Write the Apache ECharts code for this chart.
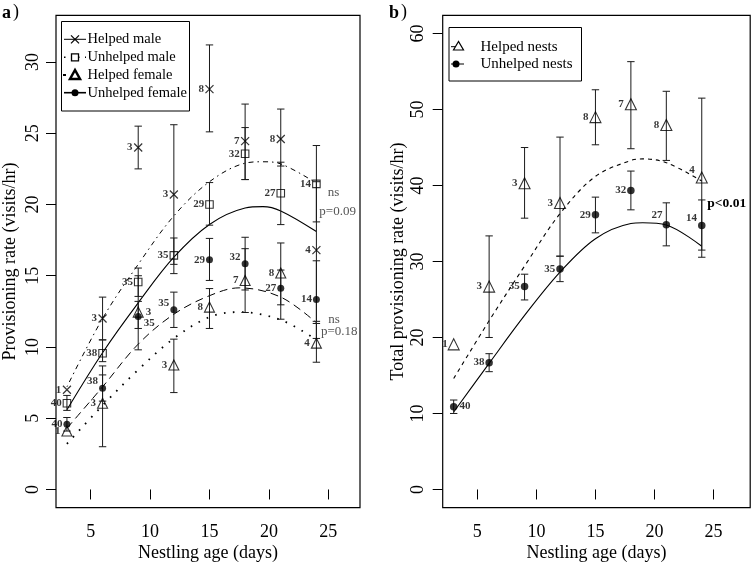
<!DOCTYPE html>
<html><head><meta charset="utf-8">
<script src="https://cdn.jsdelivr.net/npm/echarts@6/dist/echarts.min.js"></script>
<style>html,body{margin:0;padding:0;background:#fff}#c{width:751px;height:564px}</style>
</head><body><div id="c"></div>
<script>
// ---------- data ----------
const ages = [3, 6, 9, 12, 15, 18, 21, 24];
const xTicks = [5, 10, 15, 20, 25];
const yTicksA = [0, 5, 10, 15, 20, 25, 30];
const yTicksB = [0, 10, 20, 30, 40, 50, 60];
const xTitle = 'Nestling age (days)';
const yTitleA = 'Provisioning rate (visits/hr)';
const yTitleB = 'Total provisioning rate (visits/hr)';

// Panel a) provisioning rate by sex
const helpedMale   = [7.0, 12.0, 24.0, 20.7, 28.1, 24.45, 24.6, 16.8];
const helpedMaleLo = [null, 10.5, 22.5, 15.8, 25.1, 21.75, 22.7, 11.8];
const helpedMaleHi = [null, 13.5, 25.5, 25.6, 31.2, 27.05, 26.7, 21.6];
const helpedMaleN  = [1, 3, 3, 3, 8, 7, 8, 4];

const unhelpedMale   = [6.05, 9.56, 14.56, 16.43, 20.0, 23.56, 20.79, 21.45];
const unhelpedMaleLo = [5.55, 8.97, 13.55, 15.15, 18.55, 21.75, 18.59, 18.78];
const unhelpedMaleHi = [6.6, 10.5, 15.54, 17.65, 21.54, 25.4, 22.97, 24.14];
const unhelpedMaleN  = [40, 38, 35, 35, 29, 32, 27, 14];

const helpedFemale   = [4.1, 6.05, 12.45, 8.74, 12.8, 14.67, 15.19, 10.27];
const helpedFemaleLo = [null, 3.0, 9.8, 6.8, 11.3, 12.42, 11.95, 8.93];
const helpedFemaleHi = [null, 8.67, 15.0, 10.55, 14.1, 16.9, 17.3, 11.65];
const helpedFemaleN  = [1, 3, 3, 3, 8, 7, 8, 4];

const unhelpedFemale   = [4.57, 7.1, 12.14, 12.61, 16.12, 15.84, 14.13, 13.33];
const unhelpedFemaleLo = [4.1, 6.2, 11.3, 11.37, 14.67, 14.0, 12.96, 10.6];
const unhelpedFemaleHi = [5.05, 8.04, 13.2, 13.85, 17.62, 17.7, 15.4, 16.05];
const unhelpedFemaleN  = [40, 38, 35, 35, 29, 32, 27, 14];

// fitted curves, panel a
const fitXMale = [3, 6, 9, 12, 15, 18, 19.5, 21, 24];
const fitSolidA   = [5.6, 9.6, 13.1, 16.3, 18.6, 19.75, 19.85, 19.55, 18.1];
const fitDashDotA = [7.2, 12.0, 15.8, 19.2, 21.6, 22.9, 23.0, 22.85, 21.5];
const fitXFemale = [3, 6, 9, 12, 15, 17.5, 21, 24];
const fitDashedA = [4.3, 7.2, 10.2, 12.3, 13.6, 14.15, 13.5, 11.7];
const fitDottedA = [3.2, 5.9, 8.4, 10.6, 12.1, 12.45, 11.9, 10.5];

// Panel b) total provisioning rate
const helpedNests   = [19.1, 26.7, 40.3, 37.7, 49.0, 50.7, 47.96, 41.05];
const helpedNestsLo = [null, 20.0, 35.7, 30.7, 45.36, 44.84, 43.3, 30.56];
const helpedNestsHi = [null, 33.37, 45.0, 46.37, 52.6, 56.3, 52.4, 51.5];
const helpedNestsN  = [1, 3, 3, 3, 8, 7, 8, 4];

const unhelpedNests   = [10.9, 16.69, 26.7, 29.02, 36.14, 39.35, 34.82, 34.73];
const unhelpedNestsLo = [10.0, 15.5, 24.94, 27.35, 33.77, 36.8, 32.06, 31.5];
const unhelpedNestsHi = [11.77, 17.87, 28.33, 30.7, 38.47, 41.9, 37.72, 38.1];
const unhelpedNestsN  = [40, 38, 35, 35, 29, 32, 27, 14];

const fitXB = [3, 6, 9, 12, 15, 18, 19, 21, 24];
const fitDashedB = [14.6, 22.2, 29.4, 36.3, 41.2, 43.3, 43.5, 43.0, 40.6];
const fitSolidB  = [10.2, 16.6, 22.9, 28.6, 33.0, 35.0, 35.1, 34.8, 32.0];

// ---------- label placement (styling) ----------
const LBL = {
  L:  {position: 'left', distance: 1},
  L0: {position: 'left', distance: 0},
  R:  {position: 'right', distance: 2},
  LU: {position: 'left', distance: 1, offset: [0, -7]},
  LU2:{position: 'left', distance: 0, offset: [0, -10]},
  RD: {position: 'right', distance: 2, offset: [0, 7]}
};
const posHM = ['L','L','L','L','L','L','L','L'];
const posUM = ['L','L','L','L','L','L','L','L'];
const posHF = ['L','L','R','L','L','L','L','L'];
const posUF = ['L','LU','RD','LU','L','LU','L','L'];
const posHN = ['L0','L','L','L','L','L','L','LU'];
const posUN = ['R','L','L','L','L','L','LU2','LU'];

const FONT = 'Liberation Serif';
const crossPath = 'path://M0,0L10,10M0,10L10,0';

function pts(idx, vals, ns, pos, symbol, size, filled, bw) {
  return {
    type: 'scatter', xAxisIndex: idx, yAxisIndex: idx, z: 5,
    symbol: symbol, symbolSize: size,
    itemStyle: {color: filled ? '#000' : 'rgba(0,0,0,0)', borderColor: '#000', borderWidth: bw},
    label: {show: true, fontFamily: FONT, fontWeight: 'bold', fontSize: 11, color: '#000',
      formatter: p => String(ns[p.dataIndex])},
    data: ages.map((x, i) => ({value: [x, vals[i]], label: LBL[pos[i]]}))
  };
}
function errs(idx, lo, hi) {
  const data = [];
  ages.forEach((x, i) => { if (lo[i] != null) data.push([x, lo[i], hi[i]]); });
  return {
    type: 'custom', xAxisIndex: idx, yAxisIndex: idx, z: 3, silent: true,
    encode: {x: 0, y: [1, 2]}, data: data,
    renderItem: function (params, api) {
      const x = api.value(0);
      const a = api.coord([x, api.value(1)]);
      const b = api.coord([x, api.value(2)]);
      const w = 3.7;
      const st = {stroke: '#1a1a1a', lineWidth: 1};
      return {type: 'group', children: [
        {type: 'line', shape: {x1: a[0], y1: a[1], x2: b[0], y2: b[1]}, style: st},
        {type: 'line', shape: {x1: a[0] - w, y1: a[1], x2: a[0] + w, y2: a[1]}, style: st},
        {type: 'line', shape: {x1: b[0] - w, y1: b[1], x2: b[0] + w, y2: b[1]}, style: st}
      ]};
    }
  };
}
function fit(idx, xs, ys, type, width) {
  return {
    type: 'line', xAxisIndex: idx, yAxisIndex: idx, z: 2, silent: true,
    showSymbol: false, symbol: 'none', smooth: 0.35,
    lineStyle: {color: '#000', width: width || 1, type: type},
    data: xs.map((x, i) => [x, ys[i]])
  };
}

function xAx(idx, min, max) {
  return {
    type: 'value', gridIndex: idx, min: min, max: max,
    axisLine: {show: false}, splitLine: {show: false}, axisLabel: {show: false},
    axisTick: {show: true, length: 10, lineStyle: {color: '#000', width: 1}, customValues: xTicks}
  };
}
function yAx(idx, min, max, ticks) {
  return {
    type: 'value', gridIndex: idx, min: min, max: max,
    axisLine: {show: false}, splitLine: {show: false}, axisLabel: {show: false},
    axisTick: {show: true, length: 10, lineStyle: {color: '#000', width: 1}, customValues: ticks}
  };
}

// ---------- legend / text graphics ----------
const G = [];
function txt(x, y, s, size, weight, color, align, rot) {
  G.push({type: 'text', x: x, y: y, rotation: rot || 0, style: {text: s, fontFamily: FONT, fontSize: size,
    fontWeight: weight || 'normal', fill: color || '#000', textAlign: align || 'left', textVerticalAlign: 'middle'}});
}
function seg(x1, y1, x2, y2, dash, w) {
  G.push({type: 'line', shape: {x1, y1, x2, y2}, style: {stroke: '#000', lineWidth: w || 1, lineDash: dash || null}});
}
// legend a
G.push({type: 'rect', shape: {x: 61.5, y: 21.5, width: 128, height: 89.5}, style: {fill: '#fff', stroke: '#000', lineWidth: 1}});
const la = [39.3, 57.3, 75, 92.7];
seg(64, la[0], 86, la[0]);
seg(71, la[0] - 4, 79, la[0] + 4, null, 1.2); seg(71, la[0] + 4, 79, la[0] - 4, null, 1.2);
seg(64, la[1], 86, la[1], [1.5, 5.5], 1.6);
G.push({type: 'rect', shape: {x: 71.5, y: la[1] - 3.5, width: 7, height: 7}, style: {fill: '#fff', stroke: '#000', lineWidth: 1.3}});
seg(63, la[2], 66, la[2], null, 2);
G.push({type: 'polygon', shape: {points: [[75, la[2] - 5], [70, la[2] + 4], [80, la[2] + 4]]}, style: {fill: '#fff', stroke: '#000', lineWidth: 2.5}});
seg(64, la[3], 86, la[3], null, 1.6);
G.push({type: 'circle', shape: {cx: 75, cy: la[3], r: 3.5}, style: {fill: '#000'}});
txt(87.5, la[0], 'Helped male', 14.5); txt(87.5, la[1], 'Unhelped male', 14.5);
txt(87.5, la[2], 'Helped female', 14.5); txt(87.5, la[3], 'Unhelped female', 14.5);
// legend b
G.push({type: 'rect', shape: {x: 449, y: 27.5, width: 132.5, height: 53.5}, style: {fill: '#fff', stroke: '#000', lineWidth: 1}});
seg(451, 46.7, 455, 46.7);
G.push({type: 'polygon', shape: {points: [[458.5, 41.5], [453.5, 50], [463.5, 50]]}, style: {fill: 'none', stroke: '#000', lineWidth: 1.2}});
seg(451, 64, 464, 64);
G.push({type: 'circle', shape: {cx: 456, cy: 64, r: 3.5}, style: {fill: '#000'}});
txt(480.5, 46.7, 'Helped nests', 15); txt(480.5, 64, 'Unhelped nests', 15);
// panel letters and annotations
txt(2, 13, 'a', 18, 'bold'); txt(13, 12, ')', 18);
txt(389, 13, 'b', 18, 'bold'); txt(401, 12, ')', 18);
txt(327.7, 192.7, 'ns', 13, 'normal', '#555'); txt(319.3, 211.7, 'p=0.09', 13, 'normal', '#555');
txt(328.3, 320, 'ns', 13, 'normal', '#555'); txt(321, 331.5, 'p=0.18', 13, 'normal', '#555');
txt(707.3, 204, 'p<0.01', 13.5, 'bold');

const grids = [
  {left: 56, top: 15.3, width: 304, height: 492.4, show: true, borderColor: '#000', borderWidth: 1.2, backgroundColor: 'transparent'},
  {left: 442.7, top: 15.3, width: 307.5, height: 492.4, show: true, borderColor: '#000', borderWidth: 1.2, backgroundColor: 'transparent'}
];
const option = {
  animation: false,
  backgroundColor: '#fff',
  grid: grids,
  xAxis: [xAx(0, 2.08, 27.67), xAx(1, 2.07, 28.1)],
  yAxis: [yAx(0, -1.28, 33.28, yTicksA), yAx(1, -2.4, 62.4, yTicksB)],
  graphic: G,
  series: [
    fit(0, fitXMale, fitSolidA, 'solid', 1.1),
    fit(0, fitXMale, fitDashDotA, [1.5, 4, 5, 4], 1),
    fit(0, fitXFemale, fitDashedA, [8, 5], 1),
    fit(0, fitXFemale, fitDottedA, [1.6, 7.4], 1.8),
    errs(0, helpedMaleLo, helpedMaleHi),
    errs(0, unhelpedMaleLo, unhelpedMaleHi),
    errs(0, helpedFemaleLo, helpedFemaleHi),
    errs(0, unhelpedFemaleLo, unhelpedFemaleHi),
    pts(0, helpedMale, helpedMaleN, posHM, crossPath, 8, false, 1.2),
    pts(0, unhelpedMale, unhelpedMaleN, posUM, 'rect', 7.5, false, 1.1),
    pts(0, helpedFemale, helpedFemaleN, posHF, 'triangle', 10, false, 1.1),
    pts(0, unhelpedFemale, unhelpedFemaleN, posUF, 'circle', 7, true, 0),
    fit(1, fitXB, fitDashedB, [4, 4], 1.1),
    fit(1, fitXB, fitSolidB, 'solid', 1.1),
    errs(1, helpedNestsLo, helpedNestsHi),
    errs(1, unhelpedNestsLo, unhelpedNestsHi),
    pts(1, helpedNests, helpedNestsN, posHN, 'triangle', 11, false, 1.1),
    pts(1, unhelpedNests, unhelpedNestsN, posUN, 'circle', 7.5, true, 0)
  ]
};
const chart = echarts.init(document.getElementById('c'), null, {renderer: 'canvas'});
chart.setOption(option);

// tick labels and axis titles placed from the axes' own scales
[0, 1].forEach(i => {
  const gTop = grids[i].top, gBot = gTop + grids[i].height, gLeft = grids[i].left;
  xTicks.forEach(v => {
    const px = chart.convertToPixel({xAxisIndex: i}, v);
    txt(px, gBot + 25, String(v), 18, 'normal', '#000', 'center');
  });
  const yt = i === 0 ? yTicksA : yTicksB;
  yt.forEach(v => {
    const py = chart.convertToPixel({yAxisIndex: i}, v);
    txt(gLeft - (i === 0 ? 22.7 : 24.7), py, String(v), 18, 'normal', '#000', 'center', Math.PI / 2);
  });
  txt(gLeft + grids[i].width / 2, gBot + 46, xTitle, 18, 'normal', '#000', 'center');
  txt(gLeft - (i === 0 ? 45.5 : 44.5), (gTop + gBot) / 2, i === 0 ? yTitleA : yTitleB, 18, 'normal', '#000', 'center', Math.PI / 2);
});
chart.setOption({graphic: G});
</script></body></html>
